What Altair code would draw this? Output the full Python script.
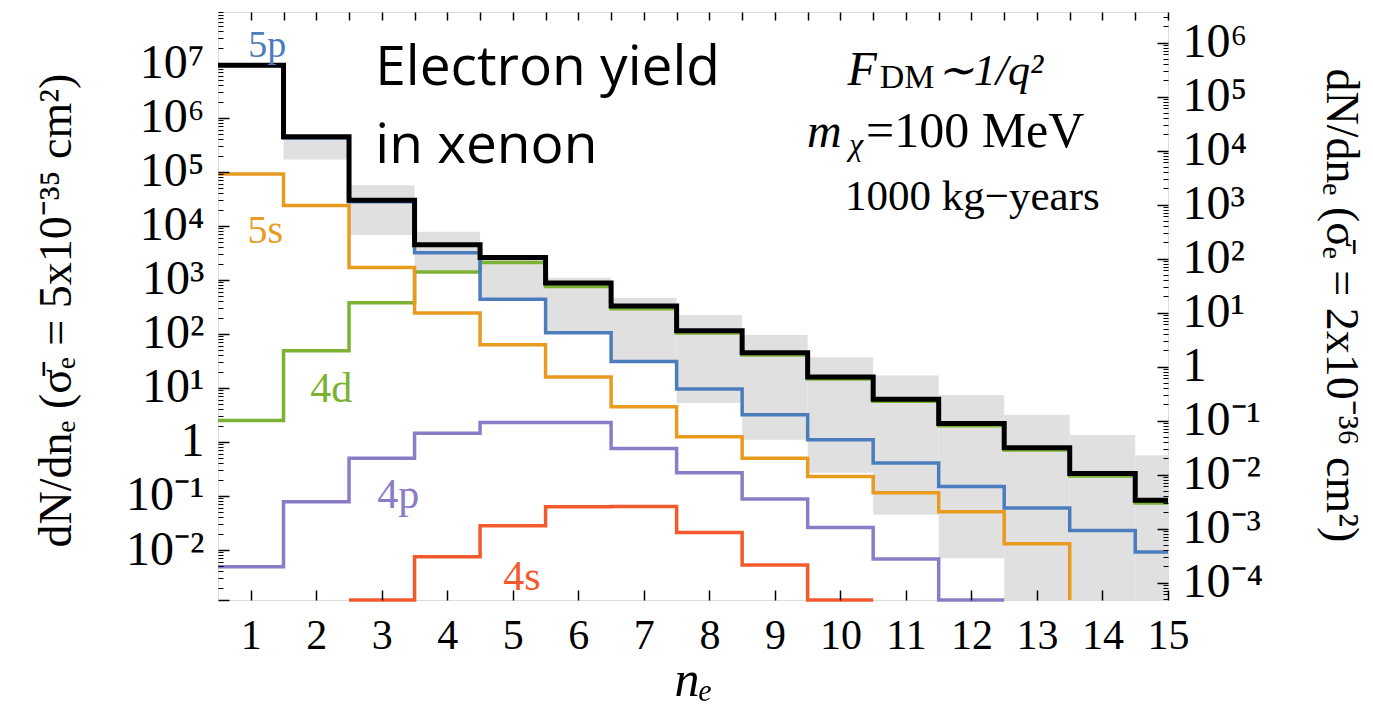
import altair as alt
import pandas as pd
import numpy as np

# ---------------- data ----------------
NE = list(range(1, 16))
BELOW = 1e-6  # value below the plotted range (drawn on the bottom edge)

TOTAL = [9.5e6, 4.5e5, 3.0e4, 4.5e3, 2.6e3, 880, 330, 115, 45, 16, 6.2, 2.2, 0.78, 0.26, 0.083]
P5 = [9.4e6, 4.26e5, 2.8e4, 3.2e3, 440, 105, 31, 9.6, 3.2, 1.1, 0.41, 0.15, 0.06, 0.023, 0.0092]
S5 = [9.2e4, 2.4e4, 1.7e3, 245, 63, 16, 4.5, 1.25, 0.5, 0.23, 0.115, 0.051, 0.013, BELOW]
D4 = [2.5, 49, 380, 1.4e3, 2.1e3, 760, 295, 104, 41, 14.7, 5.7, 2.0, 0.71, 0.235, 0.074]
P4 = [0.0049, 0.078, 0.5, 1.45, 2.3, 2.3, 0.76, 0.27, 0.088, 0.026, 0.0068, BELOW]
S4 = [None, None, BELOW, 0.0075, 0.028, 0.063, 0.064, 0.021, 0.0053, BELOW]

BAND_LO = [None, 1.7e5, 6.8e3, 1.5e3, 450, 110, 30, 5.3, 1.1, 0.27, 0.045, 0.007, BELOW, BELOW, BELOW]
BAND_HI = [None, 4.5e5, 5.7e4, 7.8e3, 2.6e3, 1.1e3, 470, 225, 96, 37, 17, 7.4, 3.2, 1.35, 0.57]

SERIES_NAMES = ["4d", "4p", "4s", "5s", "5p"]
SERIES_VALUES = [D4, P4, S4, S5, P5]
SERIES_COLORS = ["#7cb233", "#8a7cc6", "#f25a2e", "#e89b1f", "#4b7dbd"]
SERIES_END = {"4s": 10.5, "4p": 12.5, "5s": 13.5}

LEFT_TICKS = [1e-2, 1e-1, 1, 1e1, 1e2, 1e3, 1e4, 1e5, 1e6, 1e7]
LEFT_LABELS = ["10⁻²", "10⁻¹", "1", "10¹", "10²", "10³", "10⁴", "10⁵", "10⁶", "10⁷"]
RIGHT_TICKS = [1e-4, 1e-3, 1e-2, 1e-1, 1, 1e1, 1e2, 1e3, 1e4, 1e5, 1e6]
RIGHT_LABELS = ["10⁻⁴", "10⁻³", "10⁻²", "10⁻¹", "1", "10¹", "10²", "10³", "10⁴", "10⁵", "10⁶"]
X_TICKS = NE
X_TOP_TICKS = [0.5 * k for k in range(2, 31)]

LEFT_TITLE = "dN/dnₑ (σ̄ₑ = 5x10⁻³⁵ cm²)"
RIGHT_TITLE = "dN/dnₑ (σ̄ₑ = 2x10⁻³⁶ cm²)"
X_TITLE = "nₑ"

# annotations: text, x (n_e units), y (left-axis units), size, color
SHELL_LABELS = [
    ("5p", 1.25, 1.35e7, 38, "#4b7dbd"),
    ("5s", 1.22, 4.84e3, 40, "#e89b1f"),
    ("4d", 2.23, 5.5, 42, "#7cb233"),
    ("4p", 3.25, 0.06, 42, "#8a7cc6"),
    ("4s", 5.14, 1.82e-3, 42, "#f25a2e"),
]
SANS_TEXT = [("Electron yield", 2.90, 4.08e6), ("in xenon", 2.90, 1.47e5)]
ITALIC_TEXT = [("F", 10.11, 4.08e6, 48), ("∼1/q²", 11.47, 4.08e6, 44),
               ("m", 9.49, 2.9e5, 48), ("χ", 10.13, 2.07e5, 32)]
ROMAN_TEXT = [("DM", 10.60, 3.6e6, 34), ("=100 MeV", 10.39, 2.9e5, 50),
              ("1000 kg−years", 10.07, 1.98e4, 43)]

# ---------------- scales ----------------
W, H = 950, 588
X_DOMAIN = [0.5, 15]
Y_DOMAIN = [1.186e-3, 9.18e7]
RATIO = 25.0
YR_DOMAIN = [Y_DOMAIN[0] / RATIO, Y_DOMAIN[1] / RATIO]
SERIF = "Liberation Serif"


def xs():
    return alt.Scale(domain=X_DOMAIN, nice=False, zero=False)


def ys(d=None):
    return alt.Scale(type="log", domain=d or Y_DOMAIN, nice=False, clamp=True)


# ---------------- tables ----------------
def step_rows(name, vals):
    rows = []
    last = None
    for n, v in zip(NE, vals):
        if v is None:
            continue
        rows.append(dict(series=name, x=n - 0.5, y=v))
        last = (n, v)
    end = SERIES_END.get(name, X_DOMAIN[1])
    if end > last[0] - 0.5:
        rows.append(dict(series=name, x=end, y=last[1]))
    return rows


line_rows = []
for nm, vals in zip(SERIES_NAMES, SERIES_VALUES):
    line_rows += step_rows(nm, vals)
lines_df = pd.DataFrame(line_rows)
total_df = pd.DataFrame(step_rows("total", TOTAL))

band_df = pd.DataFrame([dict(x=n - 0.5, x2=n + 0.5, lo=lo, hi=hi)
                        for n, lo, hi in zip(NE, BAND_LO, BAND_HI) if lo is not None])

shell_df = pd.DataFrame(SHELL_LABELS, columns=["text", "x", "y", "size", "color"])
sans_df = pd.DataFrame(SANS_TEXT, columns=["text", "x", "y"])
ital_df = pd.DataFrame(ITALIC_TEXT, columns=["text", "x", "y", "size"])
roman_df = pd.DataFrame(ROMAN_TEXT, columns=["text", "x", "y", "size"])
dummy = pd.DataFrame({"x": [1.0], "y": [1.0]})


def label_expr(ticks, labels):
    parts = [f"round(log(datum.value)/LN10) == {int(round(np.log10(t)))} ? '{lab}' : "
             for t, lab in zip(ticks, labels)]
    return "".join(parts) + "''"


# ---------------- layers ----------------
band = alt.Chart(band_df).mark_rect(color="#e0e0e0", clip=True).encode(
    x=alt.X("x:Q", scale=xs(), axis=None), x2="x2:Q",
    y=alt.Y("lo:Q", scale=ys(), axis=None), y2="hi:Q")

shells = alt.Chart(lines_df).mark_line(interpolate="step-after", strokeWidth=3.5).encode(
    x=alt.X("x:Q", scale=xs(), axis=None),
    y=alt.Y("y:Q", scale=ys(), axis=None),
    color=alt.Color("series:N", scale=alt.Scale(domain=SERIES_NAMES, range=SERIES_COLORS), legend=None),
    detail="series:N")

total = alt.Chart(total_df).mark_line(interpolate="step-after", strokeWidth=5, color="black").encode(
    x=alt.X("x:Q", scale=xs(), axis=None),
    y=alt.Y("y:Q", scale=ys(), axis=None))

shell_text = alt.Chart(shell_df).mark_text(font=SERIF, align="center", baseline="alphabetic").encode(
    x=alt.X("x:Q", scale=xs(), axis=None), y=alt.Y("y:Q", scale=ys(), axis=None),
    text="text:N", size=alt.Size("size:Q", scale=None), color=alt.Color("color:N", scale=None))

sans_text = alt.Chart(sans_df).mark_text(font="Open Sans", fontSize=55, align="left", baseline="alphabetic",
                                         color="black").encode(
    x=alt.X("x:Q", scale=xs(), axis=None), y=alt.Y("y:Q", scale=ys(), axis=None), text="text:N")

ital_text = alt.Chart(ital_df).mark_text(font=SERIF, fontStyle="italic", align="left",
                                         baseline="alphabetic", color="black").encode(
    x=alt.X("x:Q", scale=xs(), axis=None), y=alt.Y("y:Q", scale=ys(), axis=None),
    text="text:N", size=alt.Size("size:Q", scale=None))

roman_text = alt.Chart(roman_df).mark_text(font=SERIF, align="left", baseline="alphabetic",
                                           color="black").encode(
    x=alt.X("x:Q", scale=xs(), axis=None), y=alt.Y("y:Q", scale=ys(), axis=None),
    text="text:N", size=alt.Size("size:Q", scale=None))


def axis_layer(xaxis=None, yaxis=None, ydomain=None):
    return alt.Chart(dummy).mark_point(opacity=0).encode(
        x=alt.X("x:Q", scale=xs(), axis=xaxis),
        y=alt.Y("y:Q", scale=ys(ydomain), axis=yaxis))


def tick_axis(orient, values, size, width=1.5):
    return alt.Axis(orient=orient, values=values, tickSize=size, offset=-size, labels=False,
                    domain=False, grid=False, title="", ticks=True, tickColor="black",
                    tickWidth=width, zindex=2)


def minor_values(lo_exp, hi_exp, lo, hi):
    out = []
    for e in range(lo_exp, hi_exp + 1):
        for m in range(2, 10):
            v = m * 10.0 ** e
            if lo <= v <= hi:
                out.append(v)
    return out


L_MINOR = minor_values(-4, 8, Y_DOMAIN[0], Y_DOMAIN[1])
R_MINOR = minor_values(-5, 7, YR_DOMAIN[0], YR_DOMAIN[1])

left_major = axis_layer(yaxis=tick_axis("left", LEFT_TICKS + [1e-3], 11))
left_minor = axis_layer(yaxis=tick_axis("left", L_MINOR, 5, 1))
right_major = axis_layer(yaxis=tick_axis("right", RIGHT_TICKS, 11), ydomain=YR_DOMAIN)
right_minor = axis_layer(yaxis=tick_axis("right", R_MINOR, 5, 1), ydomain=YR_DOMAIN)
bottom_ticks = axis_layer(xaxis=tick_axis("bottom", X_TICKS, 10))
top_ticks = axis_layer(xaxis=tick_axis("top", X_TOP_TICKS, 8))

left_labels = axis_layer(yaxis=alt.Axis(
    orient="left", values=LEFT_TICKS, labelExpr=label_expr(LEFT_TICKS, LEFT_LABELS),
    ticks=False, tickSize=0, domain=False, grid=False, labelFont=SERIF, labelFontSize=48,
    labelColor="black", labelPadding=14, labelAlign="right", labelBaseline="middle",
    labelOverlap=False, labelFlush=False,
    title=LEFT_TITLE, titleFont=SERIF, titleFontSize=46, titleFontWeight="normal",
    titleColor="black", titleX=-162, titleY=298, titleAngle=270, titleAlign="center",
    titleBaseline="middle"))

right_labels = axis_layer(ydomain=YR_DOMAIN, yaxis=alt.Axis(
    orient="right", values=RIGHT_TICKS, labelExpr=label_expr(RIGHT_TICKS, RIGHT_LABELS),
    ticks=False, tickSize=0, domain=False, grid=False, labelFont=SERIF, labelFontSize=48,
    labelColor="black", labelPadding=14, labelAlign="left", labelBaseline="middle",
    labelOverlap=False, labelFlush=False,
    title=RIGHT_TITLE, titleFont=SERIF, titleFontSize=46, titleFontWeight="normal",
    titleColor="black", titleX=172, titleY=293, titleAngle=90, titleAlign="center",
    titleBaseline="middle"))

bottom_labels = axis_layer(xaxis=alt.Axis(
    orient="bottom", values=X_TICKS, format="d", ticks=False, tickSize=0, domain=False, grid=False,
    labelFont=SERIF, labelFontSize=42, labelColor="black", labelPadding=48,
    labelBaseline="alphabetic", labelOverlap=False, labelFlush=False,
    title=X_TITLE, titleFont=SERIF, titleFontSize=50, titleFontStyle="italic",
    titleFontWeight="normal", titleColor="black", titleX=475, titleY=95,
    titleAlign="center", titleBaseline="alphabetic"))

chart = alt.layer(
    band, shells, total, shell_text, sans_text, ital_text, roman_text,
    left_major, left_minor, right_major, right_minor, bottom_ticks, top_ticks,
    left_labels, right_labels, bottom_labels,
).resolve_scale(x="independent", y="independent").properties(
    width=W, height=H,
    autosize=alt.AutoSizeParams(type="none"),
    padding={"left": 218, "top": 12, "right": 205, "bottom": 109},
).configure_view(stroke="black", strokeWidth=2).configure(background="white")

chart.save("out.html", embed_options={"renderer": "svg", "actions": False})
